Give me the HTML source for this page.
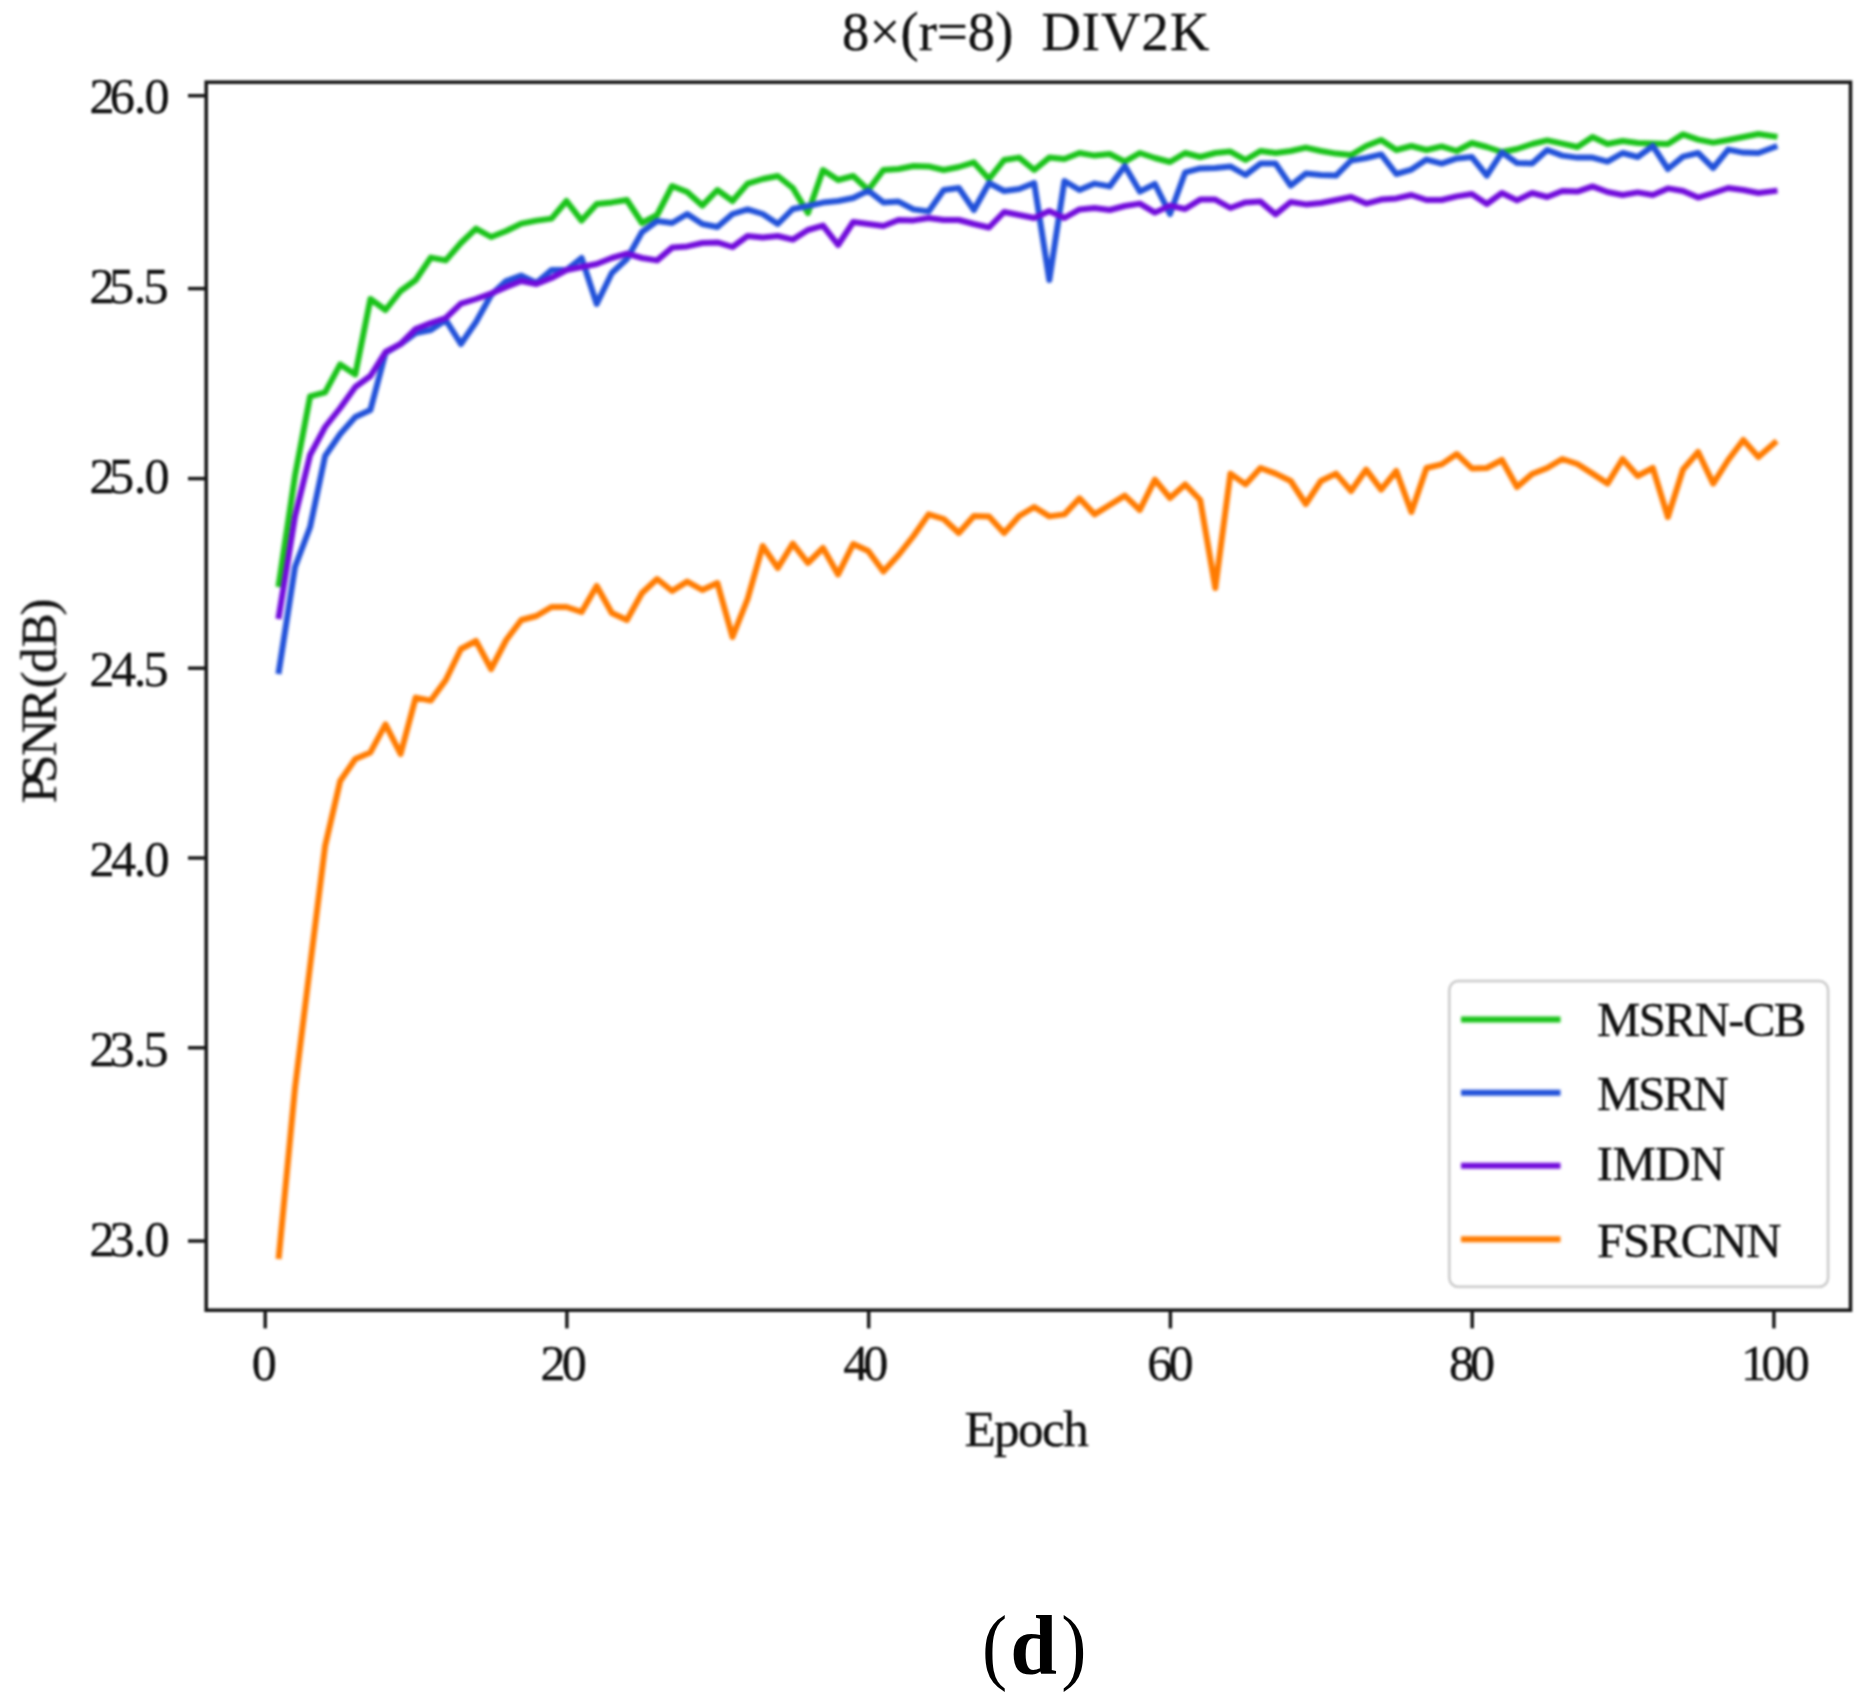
<!DOCTYPE html>
<html><head><meta charset="utf-8"><title>8x(r=8) DIV2K</title>
<style>
html,body{margin:0;padding:0;background:#fff;}
body{width:1874px;height:1706px;overflow:hidden;}
svg{display:block;}
text{font-family:"Liberation Serif","DejaVu Serif",serif;fill:#111;stroke:#111;stroke-width:0.35px;font-kerning:none;white-space:pre;}
.cap{fill:#000;stroke:none;}
.soft{filter:blur(1.5px);}
.soft2{filter:blur(1.0px);}
.ln{fill:none;stroke-width:6.0;stroke-linejoin:round;stroke-linecap:square;}
</style></head><body>
<svg width="1874" height="1706" viewBox="0 0 1874 1706">
<rect width="1874" height="1706" fill="#fff"/>
<g class="soft">

<polyline class="ln" stroke="#19c319" points="278.9,584.0 295.0,475.6 310.1,396.4 325.1,392.4 340.2,364.4 355.3,374.4 370.4,299.0 385.5,310.0 400.6,291.0 415.7,280.0 430.8,257.6 445.8,260.4 460.9,243.0 476.0,228.6 491.1,237.0 506.2,231.0 521.3,223.6 536.4,220.6 551.5,218.6 566.5,201.0 581.6,220.6 596.7,204.0 611.8,202.4 626.9,200.0 642.0,223.0 657.1,215.0 672.1,186.0 687.2,192.0 702.3,205.6 717.4,190.0 732.5,201.0 747.6,183.6 762.7,179.0 777.8,176.0 792.8,188.0 807.9,213.0 823.0,170.0 838.1,180.0 853.2,176.0 868.3,190.0 883.4,170.0 898.5,169.0 913.5,166.0 928.6,166.4 943.7,170.0 958.8,167.0 973.9,162.4 989.0,179.0 1004.1,160.0 1019.2,157.6 1034.2,170.0 1049.3,157.6 1064.4,159.0 1079.5,153.0 1094.6,155.6 1109.7,154.0 1124.8,161.6 1139.8,153.0 1154.9,158.0 1170.0,162.0 1185.1,153.0 1200.2,157.0 1215.3,153.0 1230.4,151.6 1245.5,160.0 1260.5,151.0 1275.6,153.0 1290.7,151.0 1305.8,147.6 1320.9,151.0 1336.0,153.6 1351.1,155.0 1366.2,146.0 1381.2,140.0 1396.3,150.0 1411.4,146.0 1426.5,150.0 1441.6,146.4 1456.7,151.0 1471.8,143.0 1486.8,147.0 1501.9,152.0 1517.0,149.0 1532.1,144.0 1547.2,140.4 1562.3,143.6 1577.4,147.0 1592.5,137.0 1607.5,144.0 1622.6,141.0 1637.7,143.0 1652.8,143.6 1667.9,144.0 1683.0,134.4 1698.1,139.6 1713.2,142.6 1728.2,140.0 1743.3,137.0 1758.4,134.0 1774.5,136.4"/>
<polyline class="ln" stroke="#2151d9" points="278.9,671.0 295.0,567.0 310.1,527.0 325.1,456.0 340.2,434.0 355.3,417.0 370.4,410.0 385.5,353.0 400.6,344.0 415.7,333.0 430.8,330.0 445.8,320.0 460.9,344.0 476.0,322.0 491.1,295.0 506.2,281.0 521.3,275.6 536.4,283.0 551.5,270.0 566.5,270.0 581.6,258.0 596.7,304.0 611.8,273.0 626.9,259.0 642.0,232.0 657.1,221.0 672.1,223.0 687.2,214.0 702.3,224.0 717.4,227.0 732.5,214.0 747.6,209.4 762.7,214.0 777.8,224.0 792.8,209.0 807.9,206.0 823.0,202.6 838.1,201.0 853.2,198.0 868.3,190.6 883.4,202.4 898.5,201.6 913.5,209.4 928.6,211.4 943.7,190.0 958.8,188.0 973.9,210.0 989.0,183.0 1004.1,191.0 1019.2,189.0 1034.2,183.0 1049.3,280.0 1064.4,181.0 1079.5,190.0 1094.6,183.6 1109.7,186.4 1124.8,166.0 1139.8,191.6 1154.9,184.0 1170.0,214.0 1185.1,172.4 1200.2,168.4 1215.3,168.0 1230.4,166.4 1245.5,175.0 1260.5,163.6 1275.6,163.6 1290.7,185.6 1305.8,173.6 1320.9,175.0 1336.0,175.6 1351.1,160.5 1366.2,158.0 1381.2,154.4 1396.3,174.0 1411.4,169.6 1426.5,159.6 1441.6,163.6 1456.7,158.4 1471.8,157.0 1486.8,175.6 1501.9,152.4 1517.0,163.0 1532.1,163.6 1547.2,150.0 1562.3,155.6 1577.4,157.6 1592.5,157.6 1607.5,161.6 1622.6,153.0 1637.7,157.0 1652.8,146.0 1667.9,169.0 1683.0,156.6 1698.1,153.0 1713.2,168.0 1728.2,149.6 1743.3,152.6 1758.4,153.0 1774.5,147.0"/>
<polyline class="ln" stroke="#710bdb" points="278.9,616.0 295.0,516.6 310.1,455.0 325.1,427.0 340.2,408.0 355.3,387.0 370.4,376.0 385.5,352.0 400.6,344.0 415.7,329.0 430.8,323.0 445.8,318.0 460.9,303.6 476.0,299.0 491.1,293.6 506.2,287.0 521.3,281.0 536.4,284.0 551.5,278.0 566.5,270.0 581.6,267.0 596.7,264.0 611.8,258.0 626.9,253.6 642.0,258.0 657.1,260.4 672.1,247.6 687.2,246.4 702.3,243.0 717.4,242.4 732.5,247.0 747.6,236.0 762.7,237.6 777.8,236.0 792.8,239.6 807.9,230.0 823.0,225.6 838.1,245.0 853.2,222.0 868.3,224.0 883.4,226.0 898.5,220.0 913.5,220.4 928.6,218.0 943.7,220.0 958.8,220.0 973.9,224.0 989.0,227.5 1004.1,212.0 1019.2,215.0 1034.2,218.0 1049.3,211.0 1064.4,218.0 1079.5,209.4 1094.6,208.0 1109.7,210.0 1124.8,206.0 1139.8,203.6 1154.9,212.6 1170.0,205.6 1185.1,209.0 1200.2,199.6 1215.3,199.6 1230.4,208.0 1245.5,202.4 1260.5,201.6 1275.6,214.4 1290.7,202.0 1305.8,204.4 1320.9,203.0 1336.0,200.0 1351.1,197.0 1366.2,203.6 1381.2,199.6 1396.3,198.4 1411.4,195.0 1426.5,200.0 1441.6,200.0 1456.7,196.4 1471.8,194.0 1486.8,204.0 1501.9,193.0 1517.0,200.4 1532.1,193.0 1547.2,197.0 1562.3,191.0 1577.4,191.6 1592.5,186.4 1607.5,192.0 1622.6,195.0 1637.7,192.4 1652.8,195.0 1667.9,188.4 1683.0,191.0 1698.1,197.6 1713.2,193.0 1728.2,188.0 1743.3,190.0 1758.4,193.0 1774.5,191.0"/>
<polyline class="ln" stroke="#ff7b00" points="278.9,1256.0 295.0,1088.0 310.1,966.0 325.1,846.0 340.2,781.0 355.3,759.0 370.4,752.4 385.5,724.4 400.6,754.0 415.7,697.6 430.8,700.6 445.8,680.0 460.9,649.0 476.0,641.0 491.1,669.0 506.2,640.0 521.3,620.0 536.4,616.0 551.5,607.0 566.5,607.0 581.6,612.0 596.7,586.0 611.8,613.0 626.9,620.0 642.0,593.0 657.1,579.0 672.1,591.0 687.2,581.6 702.3,590.0 717.4,583.0 732.5,637.0 747.6,599.0 762.7,546.0 777.8,568.0 792.8,543.6 807.9,563.0 823.0,548.0 838.1,574.4 853.2,544.0 868.3,551.0 883.4,571.6 898.5,555.0 913.5,536.0 928.6,514.4 943.7,519.0 958.8,533.0 973.9,516.0 989.0,516.4 1004.1,533.0 1019.2,516.0 1034.2,507.0 1049.3,516.4 1064.4,514.4 1079.5,498.4 1094.6,514.4 1109.7,505.0 1124.8,495.6 1139.8,510.0 1154.9,479.6 1170.0,498.0 1185.1,484.4 1200.2,500.0 1215.3,588.0 1230.4,473.6 1245.5,484.4 1260.5,468.0 1275.6,473.6 1290.7,481.0 1305.8,504.0 1320.9,481.0 1336.0,473.6 1351.1,491.0 1366.2,469.6 1381.2,489.6 1396.3,471.0 1411.4,512.0 1426.5,468.0 1441.6,464.4 1456.7,454.0 1471.8,468.4 1486.8,468.0 1501.9,460.0 1517.0,487.0 1532.1,474.0 1547.2,468.0 1562.3,459.0 1577.4,464.0 1592.5,473.6 1607.5,483.6 1622.6,459.0 1637.7,476.0 1652.8,468.0 1667.9,517.0 1683.0,469.5 1698.1,452.0 1713.2,483.6 1728.2,460.0 1743.3,440.0 1758.4,457.0 1774.5,443.0"/>
</g><g class="soft2">
<rect x="206.2" y="82.2" width="1644.3" height="1228.0" fill="none" stroke="#1a1a1a" stroke-width="3.6"/>
<line x1="188.0" y1="95.7" x2="206.2" y2="95.7" stroke="#1a1a1a" stroke-width="3.5"/>
<text x="89.49 109.84 133.79 144.49" y="112.9" font-size="50.2">26.0</text>
<line x1="188.0" y1="288.6" x2="206.2" y2="288.6" stroke="#1a1a1a" stroke-width="3.5"/>
<text x="89.49 109.08 133.79 143.48" y="302.9" font-size="50.2">25.5</text>
<line x1="188.0" y1="478.6" x2="206.2" y2="478.6" stroke="#1a1a1a" stroke-width="3.5"/>
<text x="89.49 109.08 133.79 144.49" y="492.9" font-size="50.2">25.0</text>
<line x1="188.0" y1="668.2" x2="206.2" y2="668.2" stroke="#1a1a1a" stroke-width="3.5"/>
<text x="89.49 111.02 133.79 143.48" y="686.1" font-size="50.2">24.5</text>
<line x1="188.0" y1="858" x2="206.2" y2="858" stroke="#1a1a1a" stroke-width="3.5"/>
<text x="89.49 111.02 133.79 144.49" y="876.1" font-size="50.2">24.0</text>
<line x1="188.0" y1="1047.8" x2="206.2" y2="1047.8" stroke="#1a1a1a" stroke-width="3.5"/>
<text x="89.49 109.60 133.79 143.48" y="1065.6" font-size="50.2">23.5</text>
<line x1="188.0" y1="1241" x2="206.2" y2="1241" stroke="#1a1a1a" stroke-width="3.5"/>
<text x="89.49 109.60 133.79 144.49" y="1255.6" font-size="50.2">23.0</text>
<line x1="265.2" y1="1310.2" x2="265.2" y2="1328.4" stroke="#1a1a1a" stroke-width="3.5"/>
<text x="251.69" y="1379.6" font-size="50.2" letter-spacing="0.00">0</text>
<line x1="566.9" y1="1310.2" x2="566.9" y2="1328.4" stroke="#1a1a1a" stroke-width="3.5"/>
<text x="540.59" y="1379.6" font-size="50.2" letter-spacing="-3.88">20</text>
<line x1="868.7" y1="1310.2" x2="868.7" y2="1328.4" stroke="#1a1a1a" stroke-width="3.5"/>
<text x="843.22" y="1379.6" font-size="50.2" letter-spacing="-5.11">40</text>
<line x1="1170.4" y1="1310.2" x2="1170.4" y2="1328.4" stroke="#1a1a1a" stroke-width="3.5"/>
<text x="1147.34" y="1379.6" font-size="50.2" letter-spacing="-3.93">60</text>
<line x1="1472.2" y1="1310.2" x2="1472.2" y2="1328.4" stroke="#1a1a1a" stroke-width="3.5"/>
<text x="1448.99" y="1379.6" font-size="50.2" letter-spacing="-4.18">80</text>
<line x1="1773.9" y1="1310.2" x2="1773.9" y2="1328.4" stroke="#1a1a1a" stroke-width="3.5"/>
<text x="1740.95 1761.25 1784.65" y="1379.6" font-size="50.2">100</text>
<text x="842.12" y="50.3" font-size="54.5" letter-spacing="0.14">8×(r=8)</text>
<text x="1041.43" y="50.3" font-size="54.5" letter-spacing="1.09">DIV2K</text>
<text x="964.42" y="1445.9" font-size="51.2" letter-spacing="-1.59">Epoch</text>
<text transform="translate(55.8,801.5) rotate(-90)" x="-1.70 18.49 45.56 78.92 113.02 128.44 154.29 185.88" y="0" font-size="51.2">PSNR(dB)</text>
<rect x="1449.3" y="981.1" width="378.8" height="305.7" rx="9" ry="9" fill="#fff" fill-opacity="0.8" stroke="#d2d2d2" stroke-width="3"/>
<text x="1597.00" y="1036.3" font-size="48.7" letter-spacing="-1.66">MSRN-CB</text>
<text x="1597.00" y="1109.8" font-size="48.7" letter-spacing="-2.11">MSRN</text>
<text x="1596.64" y="1180.2" font-size="48.7" letter-spacing="-0.46">IMDN</text>
<text x="1597.00" y="1256.5" font-size="48.7" letter-spacing="-0.99">FSRCNN</text>
</g>
<g class="soft"><line x1="1461" y1="1019.4" x2="1560.5" y2="1019.4" stroke="#19c319" stroke-width="6.0"/><line x1="1461" y1="1092.7" x2="1560.5" y2="1092.7" stroke="#2151d9" stroke-width="6.0"/><line x1="1461" y1="1165.8" x2="1560.5" y2="1165.8" stroke="#710bdb" stroke-width="6.0"/><line x1="1461" y1="1239.3" x2="1560.5" y2="1239.3" stroke="#ff7b00" stroke-width="6.0"/></g>
<text class="cap" transform="translate(981.88,1674) scale(0.9,1)" x="0" y="0" font-size="84">(</text>
<text class="cap" x="1010.30" y="1673.6" font-size="84" font-weight="bold">d</text>
<text class="cap" transform="translate(1061.16,1674) scale(0.9,1)" x="0" y="0" font-size="84">)</text>
</svg></body></html>
